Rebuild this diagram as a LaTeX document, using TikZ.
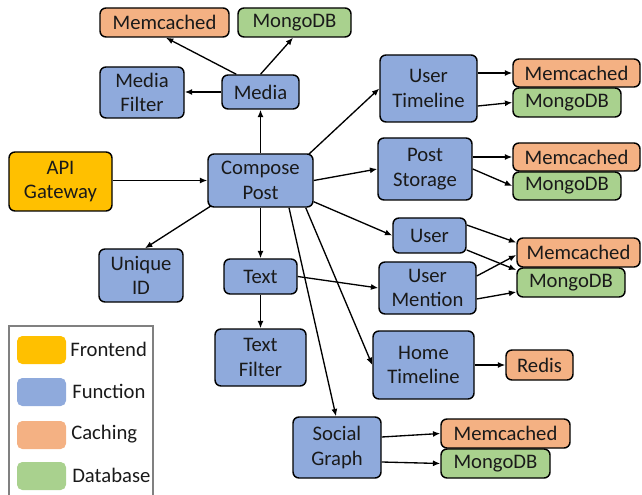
\documentclass[tikz,border=0pt]{standalone}
\usepackage{fontspec}
\setmainfont{Carlito}
\usetikzlibrary{arrows.meta,calc}
\definecolor{cache}{HTML}{F4B183}
\definecolor{dbase}{HTML}{A9D18E}
\definecolor{func}{HTML}{8FAADC}
\definecolor{front}{HTML}{FFC000}
\definecolor{txt}{HTML}{1A1A1A}
\begin{document}
\begin{tikzpicture}[x=0.75pt,y=-0.75pt,
  every node/.style={font=\fontsize{15.5pt}{18.5pt}\selectfont, text=txt},
  bx/.style args={#1/#2}{draw=black, line width=1.1pt, rounded corners=4.5pt, inner sep=0pt, align=center, minimum width=#1*0.75pt, minimum height=#2*0.75pt},
  fn/.style={bx=#1, fill=func},
  ca/.style={bx=#1, fill=cache},
  db/.style={bx=#1, fill=dbase},
  fe/.style={bx=#1, fill=front},
  sw/.style={rounded corners=4pt, inner sep=0pt, minimum width=49*0.75pt, minimum height=28*0.75pt},
  lbl/.style={anchor=west, inner sep=0pt},
  ar/.style={-{Latex[length=5.5pt,width=4.5pt]}, line width=1pt, black}
]
\useasboundingbox (0,0) rectangle (642,495);

% nodes
\node[ca=129/29] (mc1) at (164.5,22.5) {Memcached};
\node[db=113/29] (mg1) at (294.5,22.5) {MongoDB};
\node[fn=84/51] (mf) at (142,92.5) {Media\\Filter};
\node[fn=77/34] (media) at (260.5,92) {Media};
\node[fe=103/59] (api) at (60.5,181.5) {API\\Gateway};
\node[fn=105/53] (cp) at (260.5,180.5) {Compose\\Post};
\node[fn=97/67] (ut) at (428.5,88.5) {User\\Timeline};
\node[ca=127/28] (mc2) at (576.5,73) {Memcached};
\node[db=108/29] (mg2) at (567,102.5) {MongoDB};
\node[fn=94/62] (ps) at (425,169) {Post\\Storage};
\node[ca=127/28] (mc3) at (576.5,157) {Memcached};
\node[db=108/28] (mg3) at (567,186) {MongoDB};
\node[fn=73/35] (user) at (429.5,235.5) {User};
\node[ca=123/29] (mc4) at (578.5,252.5) {Memcached};
\node[db=108/29] (mg4) at (571,282.5) {MongoDB};
\node[fn=97/52] (um) at (427.5,288) {User\\Mention};
\node[fn=101/68] (ht) at (423.5,365) {Home\\Timeline};
\node[ca=67/30] (redis) at (539.5,365) {Redis};
\node[fn=88/61] (sg) at (337,447.5) {Social\\Graph};
\node[ca=129/29] (mc5) at (505.5,433.5) {Memcached};
\node[db=109/29] (mg5) at (495.5,463.5) {MongoDB};
\node[fn=84/53] (uid) at (141,275.5) {Unique\\ID};
\node[fn=73/35] (text) at (260.5,276.5) {Text};
\node[fn=91/57] (tf) at (260.5,357.5) {Text\\Filter};

% legend
\draw[draw=black!50, line width=1.1pt] (9,326) rectangle (153,505);
\node[sw, fill=front] (s1) at (41.5,350) {};
\node[sw, fill=func] (s2) at (41.5,392) {};
\node[sw, fill=cache] (s3) at (41.5,435) {};
\node[sw, fill=dbase] (s4) at (41.5,476) {};
\node[lbl] (l1) at (70,349) {Frontend};
\node[lbl] (l2) at (72,391) {Function};
\node[lbl] (l3) at (71,434) {Caching};
\node[lbl] (l4) at (72,475) {Database};

% edges
\draw[ar] (api.east |- cp.west) -- (cp.west);
\draw[ar] (cp.north) -- (media.south);
\draw[ar] (media.west) -- (mf.east |- media.west);
\draw[ar] ($(media.north west)+(15,0)$) -- ($(mc1.south)+(1.5,0)$);
\draw[ar] (media.north) -- ($(mg1.south)+(-1.5,0)$);
\draw[ar] ($(cp.south west)+(4,-2)$) -- ($(uid.north)+(4,0)$);
\draw[ar] (cp.south) -- (text.north);
\draw[ar] (text.south) -- (tf.north);
\draw[ar] (text.east) -- (um.west);
\draw[ar] (cp.east) -- (ps.west);
\draw[ar] ($(cp.south east)+(0,-6)$) -- (user.west);
\draw[ar] ($(cp.north east)+(-5,1)$) -- (ut.west);
\draw[ar] ($(cp.south east)+(-8,0)$) -- (ht.west);
\draw[ar] ($(cp.south)+(28.5,0)$) -- ($(sg.north)+(-1,0)$);
\draw[ar] (ut.east |- mc2.west) -- (mc2.west);
\draw[ar] ($(ut.east)+(0,17.5)$) -- (mg2.west);
\draw[ar] (ps.east |- mc3.west) -- (mc3.west);
\draw[ar] (ps.east) -- (mg3.west);
\draw[ar] ($(user.east)+(0,-10.5)$) -- ($(mc4.west)+(0,-10)$);
\draw[ar] ($(user.east)+(0,14.5)$) -- ($(mg4.west)+(0,-12.5)$);
\draw[ar] ($(um.east)+(0,-12)$) -- ($(mc4.west)+(0,2.5)$);
\draw[ar] ($(um.east)+(0,11)$) -- ($(mg4.west)+(0,9.5)$);
\draw[ar] (ht.east) -- (redis.west);
\draw[ar] ($(sg.east)+(0,-10.5)$) -- (mc5.west);
\draw[ar] ($(sg.east)+(0,14.5)$) -- (mg5.west);
\end{tikzpicture}
\end{document}
